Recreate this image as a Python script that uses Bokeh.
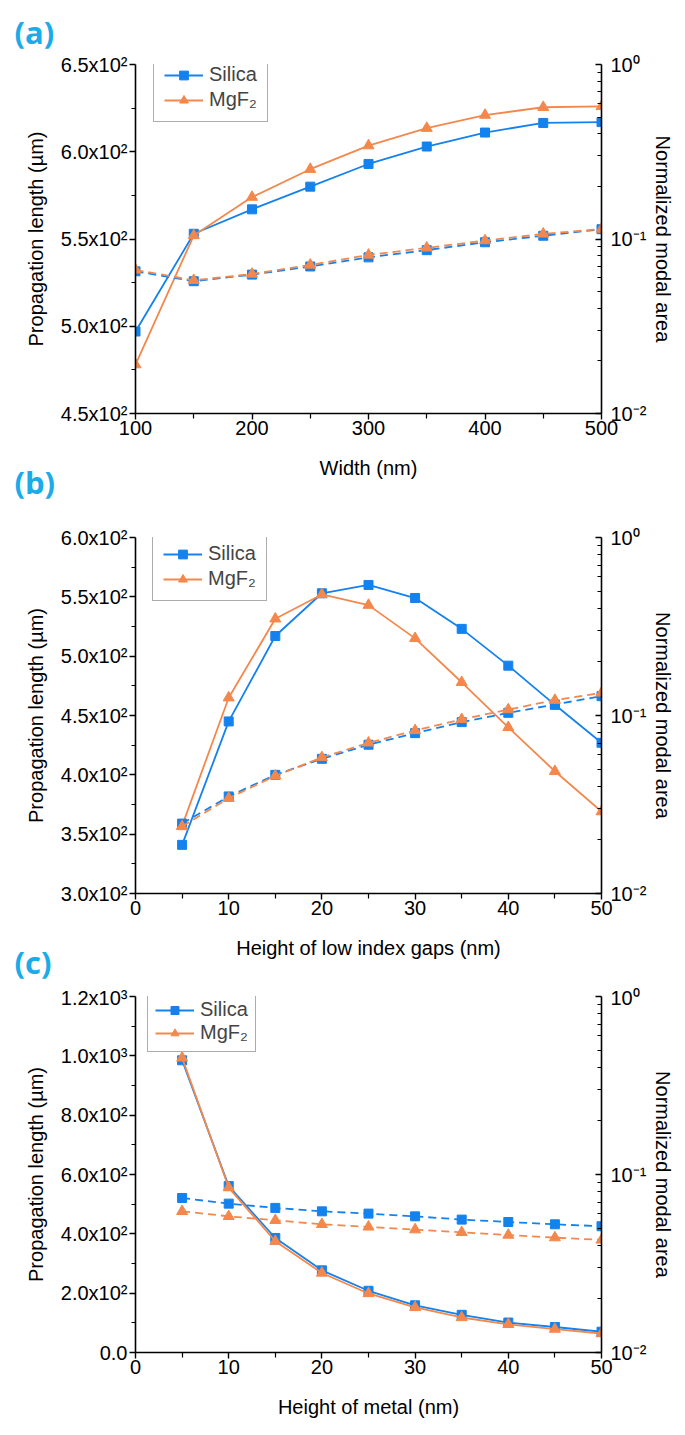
from bokeh.plotting import figure
from bokeh.models import (Range1d, LogAxis, LogScale, FixedTicker, Legend,
                          LegendItem, Title)
from bokeh.layouts import column
from bokeh.embed import file_html
from bokeh.resources import INLINE

# ---------------- data ----------------
width_nm = [100, 150, 200, 250, 300, 350, 400, 450, 500]
a_len_silica = [497, 553, 567, 580, 593, 603, 611, 616.5, 617]
a_len_mgf2 = [478, 552, 574, 590, 603.5, 613.5, 621, 625.5, 626]
a_area_silica = [0.0653, 0.0573, 0.0625, 0.0696, 0.0785, 0.0863, 0.0958, 0.1044, 0.1138]
a_area_mgf2 = [0.0665, 0.0580, 0.0630, 0.0710, 0.0810, 0.0890, 0.0980, 0.1070, 0.1140]

gap_nm = [5, 10, 15, 20, 25, 30, 35, 40, 45, 50]
b_len_silica = [341, 445, 517, 553, 560, 549, 523, 492, 459, 427]
b_len_mgf2 = [357, 465, 531.5, 552, 543, 515, 478, 440, 403, 369]
b_area_silica = [0.0247, 0.0351, 0.0464, 0.0571, 0.0685, 0.0796, 0.0918, 0.1035, 0.1153, 0.1284]
b_area_mgf2 = [0.0238, 0.0343, 0.0458, 0.0581, 0.0702, 0.0824, 0.0951, 0.1080, 0.1220, 0.1340]

metal_nm = [5, 10, 15, 20, 25, 30, 35, 40, 45, 50]
c_len_silica = [985, 561, 386, 277, 208, 159, 127, 101, 86, 70]
c_len_mgf2 = [993, 556, 375, 268, 199, 152, 118, 95, 79, 64]
c_area_silica = [0.0738, 0.0686, 0.0649, 0.0621, 0.0603, 0.0582, 0.0558, 0.0541, 0.0525, 0.0512]
c_area_mgf2 = [0.0621, 0.0582, 0.0553, 0.0525, 0.0508, 0.0490, 0.0473, 0.0457, 0.0442, 0.0429]

series_names = ["Silica", "MgF\u2082"]
panel_labels = ["(a)", "(b)", "(c)"]
x_titles = ["Width (nm)", "Height of low index gaps (nm)", "Height of metal (nm)"]
y_title = "Propagation length (\u00b5m)"
y2_title = "Normalized modal area"

BLUE = "#1482EE"
ORANGE = "#F4884C"
FONT = "Liberation Sans"
PANEL_COLOR = "#1AABE8"

SUP = {"0": "\u2070", "1": "\u00b9", "2": "\u00b2", "3": "\u00b3", "-": "\u207b"}


def sci_label(v):
    if v == 0:
        return "0.0"
    e = 0
    m = float(v)
    while m >= 10:
        m /= 10
        e += 1
    return "%.1fx10%s" % (m, SUP[str(e)])


def style_axis(ax, size="20px"):
    ax.axis_line_width = 1.6
    ax.axis_line_color = "black"
    ax.major_tick_line_width = 1.4
    ax.minor_tick_line_width = 1.2
    ax.major_label_text_font = FONT
    ax.major_label_text_font_size = size
    ax.major_label_text_color = "black"
    ax.axis_label_text_font = FONT
    ax.axis_label_text_font_size = "20px"
    ax.axis_label_text_font_style = "normal"
    ax.axis_label_text_color = "black"


def panel_title(text, standoff, valign):
    return Title(text=text, align="left", offset=-121, standoff=standoff,
                 vertical_align=valign, text_font="Open Sans",
                 text_font_style="bold", text_font_size="31px",
                 text_color=PANEL_COLOR)


def make_panel(x, len_s, len_m, area_s, area_m, xr, yr, xticks, xminor,
               yticks, yminor, xtitle, height, top, bottom, legend_loc,
               label_above, label_below, leg_pad=10, leg_row=22):
    p = figure(width=677, height=height, output_backend="svg",
               toolbar_location=None, x_range=Range1d(*xr), y_range=Range1d(*yr),
               min_border_left=135, min_border_right=76, min_border_top=top,
               min_border_bottom=bottom)
    p.outline_line_color = None
    p.xgrid.visible = False
    p.ygrid.visible = False
    p.background_fill_color = "white"
    p.border_fill_color = "white"

    p.extra_y_ranges = {"area": Range1d(0.01, 1)}
    p.extra_y_scales = {"area": LogScale()}

    # left axis
    ya = p.yaxis[0]
    ya.ticker = FixedTicker(ticks=yticks, minor_ticks=yminor)
    ya.major_label_overrides = {t: sci_label(t) for t in yticks}
    ya.axis_label = y_title
    ya.major_tick_out = 6
    ya.major_tick_in = 0
    ya.minor_tick_out = 4
    ya.minor_tick_in = 0
    ya.major_label_standoff = 2
    ya.axis_label_standoff = 11
    style_axis(ya)

    # bottom axis
    xa = p.xaxis[0]
    xa.ticker = FixedTicker(ticks=xticks, minor_ticks=xminor)
    xa.axis_label = xtitle
    xa.major_tick_out = 6
    xa.major_tick_in = 0
    xa.minor_tick_out = 5
    xa.minor_tick_in = 0
    xa.major_label_standoff = 1
    xa.axis_label_standoff = 19
    style_axis(xa)

    # right log axis
    minors = [m * d for d in (0.01, 0.1) for m in range(2, 10)]
    ra = LogAxis(y_range_name="area",
                 ticker=FixedTicker(ticks=[0.01, 0.1, 1], minor_ticks=minors),
                 axis_label=y2_title)
    ra.major_label_overrides = {0.01: "10\u207b\u00b2", 0.1: "10\u207b\u00b9", 1: "10\u2070"}
    ra.major_tick_in = 6
    ra.major_tick_out = 0
    ra.minor_tick_in = 4
    ra.minor_tick_out = 0
    ra.major_label_standoff = 9
    ra.axis_label_standoff = 3
    style_axis(ra)
    p.add_layout(ra, "right")

    # solid lines (propagation length)
    ls = p.line(x, len_s, line_color=BLUE, line_width=1.8)
    ss = p.scatter(x, len_s, marker="square", size=9, fill_color=BLUE, line_color=BLUE)
    lm = p.line(x, len_m, line_color=ORANGE, line_width=1.8)
    sm = p.scatter(x, len_m, marker="triangle", size=11, fill_color=ORANGE, line_color=ORANGE)

    # dashed lines (modal area)
    p.line(x, area_s, line_color=BLUE, line_width=1.8, line_dash="8 5", y_range_name="area")
    p.scatter(x, area_s, marker="square", size=9, fill_color=BLUE, line_color=BLUE,
              y_range_name="area")
    p.line(x, area_m, line_color=ORANGE, line_width=1.8, line_dash="8 5", y_range_name="area")
    p.scatter(x, area_m, marker="triangle", size=11, fill_color=ORANGE, line_color=ORANGE,
              y_range_name="area")

    legend = Legend(items=[LegendItem(label=series_names[0], renderers=[ls, ss]),
                           LegendItem(label=series_names[1], renderers=[lm, sm])],
                    location=legend_loc, margin=0, padding=leg_pad, spacing=2 if leg_pad > 8 else 0,
                    glyph_width=39, glyph_height=leg_row, label_standoff=6,
                    label_text_font=FONT, label_text_font_size="20px",
                    label_height=leg_row,
                    border_line_color="#5a5a5a", border_line_width=1,
                    background_fill_color="white", background_fill_alpha=1)
    p.add_layout(legend)

    if label_above is not None:
        p.add_layout(panel_title(label_above, 20, "top"), "above")
    if label_below is not None:
        p.add_layout(panel_title(label_below, -42, "top"), "below")
    return p


p1 = make_panel(width_nm, a_len_silica, a_len_mgf2, a_area_silica, a_area_mgf2,
                (100, 500), (450, 650), [100, 200, 300, 400, 500], [150, 250, 350, 450],
                [450, 500, 550, 600, 650], [475, 525, 575, 625], x_titles[0],
                height=506, top=57, bottom=93, legend_loc=(18, 291),
                label_above=panel_labels[0], label_below=panel_labels[1])

p2 = make_panel(gap_nm, b_len_silica, b_len_mgf2, b_area_silica, b_area_mgf2,
                (0, 50), (300, 600), [0, 10, 20, 30, 40, 50], [5, 15, 25, 35, 45],
                [300, 350, 400, 450, 500, 550, 600], [325, 375, 425, 475, 525, 575],
                x_titles[1], height=480, top=31, bottom=93, legend_loc=(17, 292),
                label_above=None, label_below=panel_labels[2])

p3 = make_panel(metal_nm, c_len_silica, c_len_mgf2, c_area_silica, c_area_mgf2,
                (0, 50), (0, 1200), [0, 10, 20, 30, 40, 50], [5, 15, 25, 35, 45],
                [0, 200, 400, 600, 800, 1000, 1200], [100, 300, 500, 700, 900, 1100],
                x_titles[2], height=444, top=10, bottom=78, legend_loc=(12, 300),
                label_above=None, label_below=None, leg_pad=7, leg_row=20)

layout = column(p1, p2, p3, spacing=0)
open("out.html", "w").write(file_html(layout, INLINE))
